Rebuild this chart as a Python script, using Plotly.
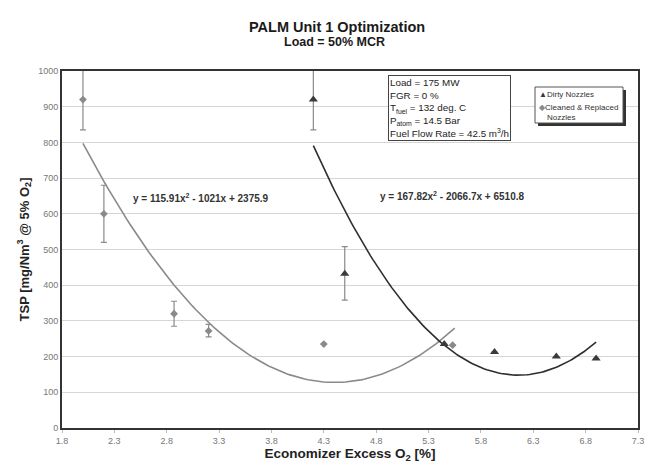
import numpy as np
import plotly.graph_objects as go

# Measured TSP points (Economizer excess O2 [%], TSP [mg/Nm3 @ 5% O2])
dirty_x = [4.2, 4.5, 5.45, 5.93, 6.52, 6.9]
dirty_y = [920, 432, 235, 213, 200, 195]
dirty_err_plus = [85, 76, 0, 0, 0, 0]
dirty_err_minus = [85, 74, 0, 0, 0, 0]

clean_x = [2.0, 2.2, 2.87, 3.2, 4.3, 5.53]
clean_y = [920, 600, 320, 272, 235, 232]
clean_err_plus = [85, 80, 35, 18, 0, 0]
clean_err_minus = [85, 80, 35, 17, 0, 0]

# Quadratic trendline coefficients (a, b, c) for y = a x^2 + b x + c
clean_fit = [115.91, -1021.0, 2375.9]
clean_fit_range = [2.0, 5.55]
dirty_fit = [167.82, -2066.7, 6510.8]
dirty_fit_range = [4.2, 6.9]

x_ticks = [1.8, 2.3, 2.8, 3.3, 3.8, 4.3, 4.8, 5.3, 5.8, 6.3, 6.8, 7.3]

FONT = "Liberation Sans, Arial, sans-serif"
W, H = 655, 470
ML, MR, MT, MB = 62, 17, 71, 42
PW, PH = W - ML - MR, H - MT - MB


def px(x):
    return (x - ML) / PW


def py(y):
    return 1 - (y - MT) / PH


def quad(coef, xs):
    a, b, c = coef
    return a * xs ** 2 + b * xs + c


def fit_label(coef):
    a, b, c = coef
    sb = "-" if b < 0 else "+"
    sc = "-" if c < 0 else "+"
    return (f"<b>y = {a:g}x<sup>2</sup> {sb} {abs(b):g}x {sc} {abs(c):g}</b>")


fig = go.Figure()

xc = np.linspace(*clean_fit_range, 120)
fig.add_trace(go.Scatter(x=xc, y=quad(clean_fit, xc), mode="lines",
                         line=dict(color="#8a8a8a", width=1.6),
                         hoverinfo="skip", showlegend=False))
xd = np.linspace(*dirty_fit_range, 120)
fig.add_trace(go.Scatter(x=xd, y=quad(dirty_fit, xd), mode="lines",
                         line=dict(color="#2e2e2e", width=1.6),
                         hoverinfo="skip", showlegend=False))

fig.add_trace(go.Scatter(
    x=clean_x, y=clean_y, mode="markers", name="Cleaned & Replaced Nozzles",
    marker=dict(symbol="diamond", size=6, color="#8a8a8a"),
    error_y=dict(type="data", symmetric=False, array=clean_err_plus,
                 arrayminus=clean_err_minus, color="#8a8a8a",
                 thickness=1.2, width=3),
    showlegend=False))
fig.add_trace(go.Scatter(
    x=dirty_x, y=dirty_y, mode="markers", name="Dirty Nozzles",
    marker=dict(symbol="triangle-up", size=8, color="#3a3a3a"),
    error_y=dict(type="data", symmetric=False, array=dirty_err_plus,
                 arrayminus=dirty_err_minus, color="#8a8a8a",
                 thickness=1.2, width=3),
    showlegend=False))

fig.update_layout(
    width=W, height=H,
    margin=dict(l=ML, r=MR, t=MT, b=MB),
    paper_bgcolor="white", plot_bgcolor="white",
    font=dict(family=FONT, color="#222"),
    showlegend=False,
)

fig.update_xaxes(
    range=[1.8, 7.3], tickvals=x_ticks, ticktext=[f"{v:.1f}" for v in x_ticks],
    showgrid=False, zeroline=False,
    showline=True, linecolor="#333", linewidth=2, mirror=True,
    ticks="outside", ticklen=3, tickcolor="#bbb",
    tickfont=dict(size=9, color="#777"),
    title=dict(text="<b>Economizer Excess O<sub>2</sub> [%]</b>",
               font=dict(size=13.5, color="#222"), standoff=4),
)
fig.update_yaxes(
    range=[0, 1000], dtick=100,
    showgrid=True, gridcolor="#d6d6d6", gridwidth=1.3, zeroline=False,
    showline=True, linecolor="#333", linewidth=2, mirror=True,
    ticks="", tickfont=dict(size=9, color="#777"),
    title=dict(text="<b>TSP [mg/Nm<sup>3</sup> @ 5% O<sub>2</sub>]</b>",
               font=dict(size=13, color="#222"), standoff=6),
)

# title block
fig.add_annotation(text="<b>PALM Unit 1 Optimization</b>",
                   x=px(337), y=py(17), xref="paper", yref="paper",
                   showarrow=False, font=dict(size=14.5, color="#1a1a1a"))
fig.add_annotation(text="<b>Load = 50% MCR</b>",
                   x=px(334), y=py(33), xref="paper", yref="paper",
                   showarrow=False, font=dict(size=12.5, color="#1a1a1a"))

# trendline equations
fig.add_annotation(text=fit_label(clean_fit), x=3.13, y=645, xref="x", yref="y",
                   showarrow=False, font=dict(size=10, color="#333"))
fig.add_annotation(text=fit_label(dirty_fit), x=5.52, y=650, xref="x", yref="y",
                   showarrow=False, font=dict(size=10, color="#333"))

# operating conditions box
fig.add_annotation(
    text=("Load = 175 MW<br>FGR = 0 %<br>T<sub>fuel</sub> = 132 deg. C<br>"
          "P<sub>atom</sub> = 14.5 Bar<br>Fuel Flow Rate = 42.5 m<sup>3</sup>/h"),
    x=px(388), y=py(75), xref="paper", yref="paper", showarrow=False,
    align="left", xanchor="left", yanchor="top",
    bordercolor="#444", borderwidth=1, borderpad=1, bgcolor="white",
    font=dict(size=9.8, color="#222"))

# legend box with drop shadow
fig.add_shape(type="rect", xref="paper", yref="paper",
              x0=px(538), x1=px(626), y0=py(90), y1=py(126),
              line=dict(width=0), fillcolor="#333")
fig.add_shape(type="rect", xref="paper", yref="paper",
              x0=px(535), x1=px(623), y0=py(87), y1=py(123),
              line=dict(color="#555", width=1), fillcolor="white")
fig.add_annotation(
    text="<span style='color:#3a3a3a'>▲</span>Dirty Nozzles",
    x=px(537), y=py(94), xref="paper", yref="paper", showarrow=False,
    xanchor="left", yanchor="middle", font=dict(size=8, color="#333"))
fig.add_annotation(
    text="<span style='color:#8a8a8a'>◆</span>Cleaned &amp; Replaced",
    x=px(537), y=py(108), xref="paper", yref="paper", showarrow=False,
    xanchor="left", yanchor="middle", font=dict(size=8, color="#333"))
fig.add_annotation(
    text="Nozzles",
    x=px(545), y=py(117), xref="paper", yref="paper", showarrow=False,
    xanchor="left", yanchor="middle", font=dict(size=8, color="#333"))

fig.write_html("out.html")
